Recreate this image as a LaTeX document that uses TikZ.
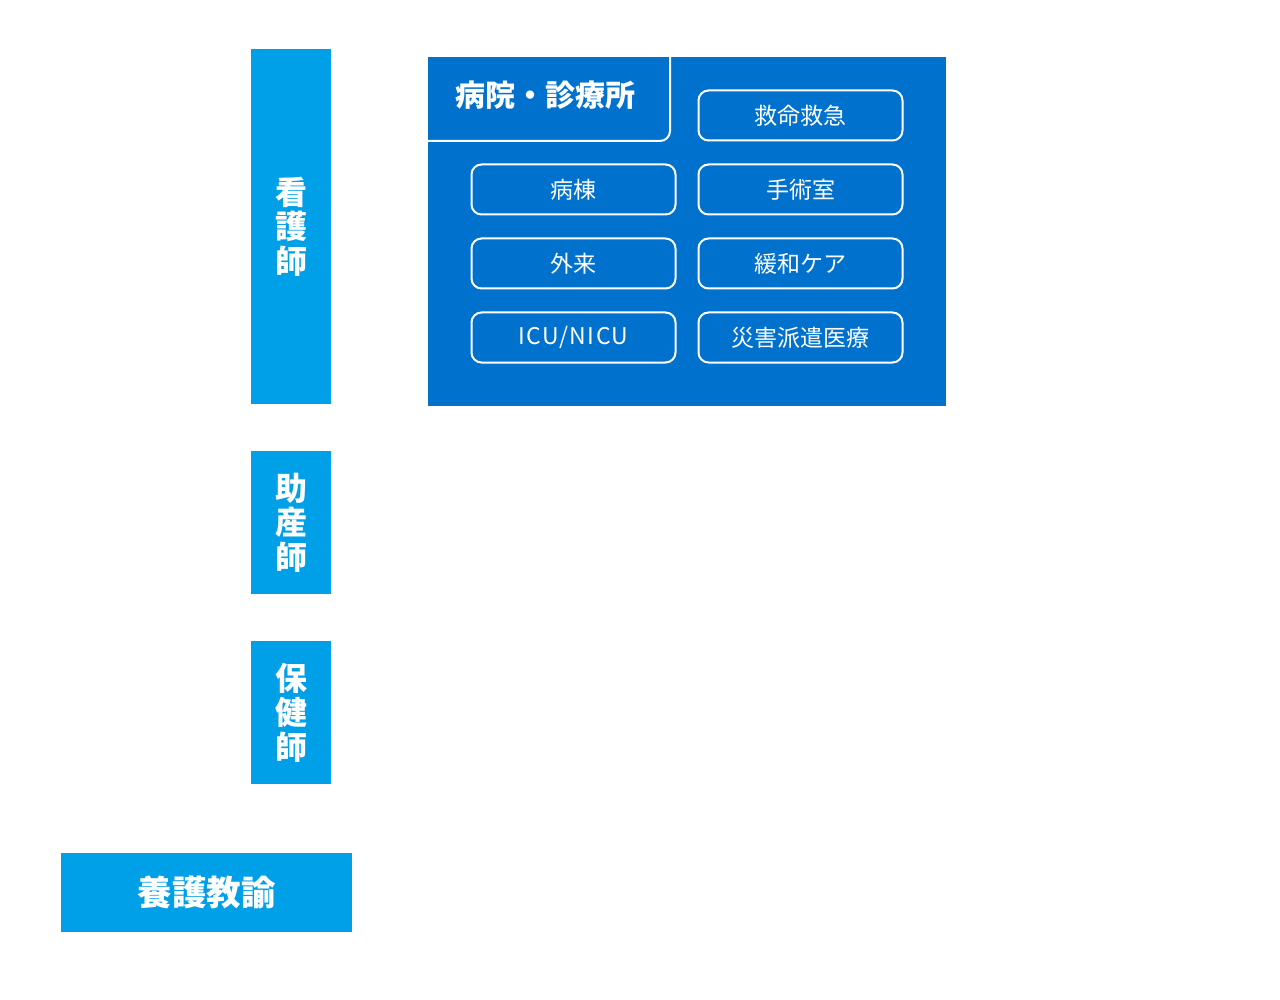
\documentclass[tikz,border=0pt]{standalone}
\usepackage{fontspec}
\newfontfamily\jp{Noto Sans CJK JP}
\definecolor{lightblue}{HTML}{00A0E8}
\definecolor{darkblue}{HTML}{0071CD}
\begin{document}
\begin{tikzpicture}[x=1pt,y=-1pt,
  bar/.style={fill=lightblue,draw=none,text=white,font=\jp\bfseries\fontsize{32}{34.5}\selectfont,align=center,inner sep=0pt},
  btn/.style={draw=white,line width=2pt,rounded corners=10pt,fill=darkblue,text=white,font=\jp\fontsize{23}{26}\selectfont,minimum width=204pt,minimum height=50pt,inner sep=0pt}]
\useasboundingbox (0,0) rectangle (1280,1000);
% left bars
\node[bar,minimum width=80pt,minimum height=355pt] (kango) at (291,226.5) {看\\護\\師};
\node[bar,minimum width=80pt,minimum height=143pt] (josan) at (291,522.5) {助\\産\\師};
\node[bar,minimum width=80pt,minimum height=143pt] (hoken) at (291,712.5) {保\\健\\師};
\node[bar,minimum width=291pt,minimum height=79pt,font=\jp\bfseries\fontsize{34.5}{36}\selectfont] (yogo) at (206.5,892.5) {養護教諭};
% big box
\node[fill=darkblue,minimum width=518pt,minimum height=349pt,inner sep=0pt] (hosp) at (687,231.5) {};
\draw[white,line width=2pt] (428,141) -- (660,141) arc[start angle=90,end angle=0,radius=10] -- (670,57);
\node[text=white,font=\jp\bfseries\fontsize{30}{32}\selectfont,inner sep=0pt] (tab) at (545,95) {病院・診療所};
% buttons
\node[btn] (b1) at (800.5,115.5) {救命救急};
\node[btn] (b2) at (573.5,189.5) {病棟};
\node[btn] (b3) at (800.5,189.5) {手術室};
\node[btn] (b4) at (573.5,263.5) {外来};
\node[btn] (b5) at (800.5,263.5) {緩和ケア};
\node[btn] (b6) at (573.5,337.5) {\addfontfeature{LetterSpace=6}ICU/NICU};
\node[btn] (b7) at (800.5,337.5) {災害派遣医療};
\end{tikzpicture}
\end{document}
